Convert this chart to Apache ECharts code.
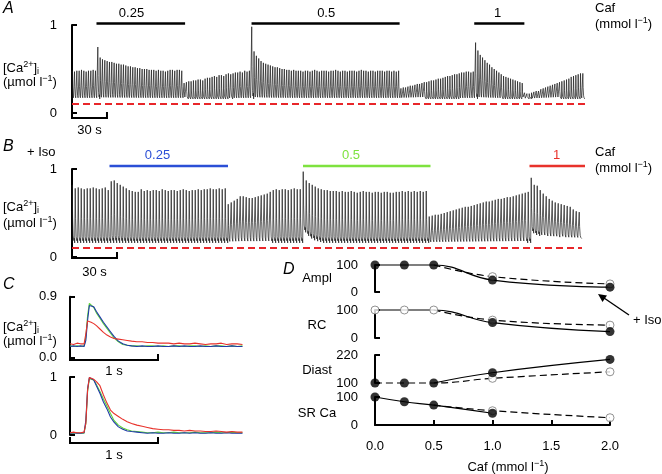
<!DOCTYPE html>
<html>
<head>
<meta charset="utf-8">
<script src="https://cdn.jsdelivr.net/npm/echarts@6.0.0/dist/echarts.min.js"></script>
<style>
html, body { margin: 0; padding: 0; background: #fff; }
#fig { width: 662px; height: 474px; }
</style>
</head>
<body>
<div id="fig"></div>
<script>
// ---- data ----
// A / B: systolic peak of every beat (field stimulation, one beat every 2 s), µmol/l
var beatPeriod = 2;
var aPeaks = [
  0.48,0.47,0.48,0.48,0.49,0.48,0.47,0.48,0.48,0.49,0.48,
  0.75,
  0.63,0.61,0.60,0.59,0.58,0.58,0.57,0.56,0.56,0.55,0.55,0.54,0.53,0.53,0.52,0.52,0.51,0.51,
  0.50,0.50,0.50,0.49,0.49,0.49,0.48,0.49,0.48,0.48,0.47,0.48,0.49,0.49,0.48,0.49,0.49,0.48,
  0.34,0.35,0.36,0.36,0.37,0.37,0.38,0.38,0.37,0.39,0.40,0.40,0.41,0.42,0.41,0.43,0.43,0.42,
  0.44,0.45,0.44,0.45,0.46,0.46,0.47,0.46,0.48,0.47,0.48,
  0.98,
  0.70,0.65,0.62,0.59,0.57,0.56,0.55,0.54,0.53,0.52,0.52,0.51,0.50,0.50,0.49,0.49,0.48,0.49,0.48,0.48,
  0.48,0.47,0.48,0.48,0.47,0.48,0.49,0.48,0.47,0.48,0.48,0.48,0.47,0.48,0.48,0.49,0.48,0.47,0.48,0.48,
  0.47,0.48,0.48,0.48,0.47,0.48,0.49,0.48,0.48,0.47,0.48,0.48,0.47,0.48,0.48,0.48,0.47,0.48,0.48,0.47,
  0.48,0.47,0.48,
  0.28,0.29,0.29,0.30,0.31,0.31,0.32,0.33,0.33,0.34,0.35,0.35,0.36,0.37,0.37,0.38,0.39,0.39,0.40,0.41,
  0.42,0.42,0.43,0.44,0.44,0.45,0.46,0.46,0.47,0.47,0.46,0.47,
  0.80,
  0.71,0.66,0.63,0.60,0.57,0.55,0.52,0.50,0.48,0.46,0.44,0.42,0.41,0.40,0.39,0.38,0.37,0.36,0.35,0.34,
  0.23,0.22,0.22,0.23,0.24,0.25,0.25,0.27,0.28,0.29,0.30,0.31,0.32,0.33,0.34,0.35,0.36,0.37,0.38,0.39,
  0.41,0.42,0.43,0.44,0.45,0.45
];
var aDiast = 0.16;

var bPeaks = [
  0.82,0.78,0.79,0.78,0.77,0.78,0.78,0.79,0.78,0.77,0.78,0.79,0.76,
  0.86,0.87,0.84,0.82,0.80,0.78,0.76,0.75,0.74,
  0.74,0.77,0.75,0.76,0.75,0.76,0.76,0.75,0.77,0.76,0.75,0.76,0.76,0.75,0.76,0.77,0.76,0.75,0.76,0.76,
  0.77,0.76,0.77,0.77,0.78,0.77,0.77,0.78,0.77,0.78,
  0.60,0.62,0.64,0.66,0.69,0.69,0.68,0.67,0.67,0.68,0.69,0.70,0.71,0.72,0.74,0.76,0.77,0.76,0.77,0.77,
  0.76,0.77,0.78,0.77,0.77,
  0.97,
  0.87,0.84,0.82,0.80,0.78,0.77,0.76,0.76,0.75,0.75,
  0.75,0.74,0.75,0.74,0.74,0.75,0.74,0.73,0.74,0.75,0.74,0.74,0.73,0.74,0.74,0.73,0.74,0.74,0.73,0.73,
  0.74,0.74,0.75,0.74,0.75,0.74,0.75,0.74,0.75,0.74,0.75,
  0.46,0.47,0.48,0.48,0.49,0.50,0.51,0.52,0.53,0.54,0.55,0.56,0.57,0.57,0.58,0.59,0.60,0.61,0.62,0.63,
  0.63,0.64,0.65,0.66,0.66,0.67,0.68,0.68,0.69,0.70,0.71,0.72,0.73,0.74,
  0.90,
  0.82,0.81,0.76,0.72,0.69,0.66,0.64,0.62,0.61,0.60,0.59,0.58,0.57,0.54,0.52,0.51
];
var bDiast = [
  0.16,0.16,0.16,0.16,0.16,0.16,0.16,0.16,0.16,0.16,0.16,0.16,0.16,0.16,0.16,0.16,0.16,0.16,0.16,0.16,
  0.16,0.16,0.16,0.16,0.16,0.16,0.16,0.16,0.16,0.16,0.16,0.16,0.16,0.16,0.16,0.16,0.16,0.16,0.16,0.16,
  0.16,0.16,0.16,0.16,0.16,0.16,0.16,0.16,0.16,0.16,0.16,0.16,0.16,0.16,0.16,0.16,0.16,0.16,0.16,0.16,
  0.16,0.16,0.16,0.16,0.16,0.16,0.16,0.16,0.16,0.16,0.16,0.16,0.16,0.16,0.16,0.16,0.16,0.16,
  0.28,0.24,0.21,0.19,0.18,0.17,
  0.16,0.16,0.16,0.16,0.16,0.16,0.16,0.16,0.16,0.16,0.16,0.16,0.16,0.16,0.16,0.16,0.16,0.16,0.16,0.16,
  0.16,0.16,0.16,0.16,0.16,0.16,0.16,0.16,0.16,0.16,0.16,0.16,0.16,0.16,0.16,0.16,0.16,0.16,0.16,0.16,
  0.16,0.16,0.16,0.16,0.16,0.16,0.16,0.16,0.16,0.16,0.16,0.16,0.16,0.16,0.16,0.16,0.16,0.16,0.16,0.16,
  0.16,0.16,0.16,0.16,0.16,0.16,0.16,0.16,0.16,0.16,
  0.27,0.25,0.24,0.23,0.23,0.22,0.22,0.22,0.22,0.21,0.22,0.21,0.21,0.21,0.21,0.21
];
// time course of one transient as fraction of (peak - diastolic)
var beatShape = [[0,0],[0.15,1],[0.4,0.45],[0.8,0.12],[1.2,0.04],[1.5,0.08],[1.8,0]];
var restLevel = 0.11;

// caffeine applications (s from start of record)
var cafLabels = ['0.25', '0.5', '1'];
var aCafStart = [21, 154, 345], aCafEnd = [97, 281, 388], aCafLabelAt = [51, 218, 365];
var bCafStart = [25, 154, 305], bCafEnd = [104, 239, 342], bCafLabelAt = [57, 186, 323];
var bCafColors = ['#2b4fd6', '#7ee23f', '#e8322b'];

// C: averaged transients (s, µmol/l)
var tC = [0,0.04,0.08,0.12,0.16,0.18,0.2,0.22,0.24,0.27,0.3,0.34,0.38,0.42,0.46,0.5,0.55,0.6,0.65,0.7,0.76,
  0.82,0.88,0.94,1.0,1.06,1.12,1.18,1.24,1.3,1.36,1.42,1.48,1.54,1.6,1.66,1.72,1.78,1.84,1.9,1.96];
var cTopGreen = [0.17,0.16,0.17,0.16,0.17,0.30,0.62,0.80,0.78,0.74,0.66,0.58,0.50,0.43,0.36,0.29,0.23,0.19,0.18,0.17,0.17,
  0.16,0.17,0.17,0.16,0.17,0.16,0.17,0.17,0.16,0.17,0.17,0.16,0.17,0.16,0.17,0.17,0.16,0.17,0.16,0.17];
var cTopBlue = [0.16,0.17,0.16,0.17,0.16,0.25,0.55,0.77,0.78,0.75,0.68,0.60,0.52,0.45,0.38,0.31,0.24,0.20,0.18,0.17,0.16,
  0.17,0.16,0.16,0.17,0.16,0.16,0.17,0.16,0.17,0.16,0.16,0.17,0.16,0.16,0.17,0.16,0.16,0.17,0.16,0.16];
var cTopRed = [0.20,0.19,0.21,0.20,0.20,0.35,0.54,0.53,0.52,0.50,0.47,0.42,0.37,0.33,0.30,0.28,0.27,0.26,0.25,0.24,0.23,
  0.23,0.22,0.22,0.21,0.21,0.21,0.20,0.21,0.20,0.20,0.21,0.20,0.19,0.20,0.20,0.21,0.19,0.20,0.20,0.19];
// C lower: normalised
var cBotGreen = [0.03,0.03,0.04,0.03,0.03,0.20,0.75,0.97,0.98,0.95,0.87,0.75,0.62,0.50,0.37,0.25,0.17,0.12,0.09,0.07,0.06,
  0.05,0.04,0.04,0.05,0.04,0.04,0.05,0.04,0.04,0.04,0.05,0.04,0.04,0.04,0.05,0.04,0.04,0.05,0.04,0.04];
var cBotBlue = [0.03,0.04,0.03,0.03,0.04,0.25,0.80,0.99,0.98,0.95,0.85,0.72,0.57,0.45,0.31,0.22,0.14,0.10,0.07,0.06,0.05,
  0.04,0.03,0.04,0.03,0.03,0.04,0.03,0.03,0.04,0.03,0.04,0.03,0.03,0.04,0.03,0.03,0.04,0.03,0.03,0.03];
var cBotRed = [0.04,0.05,0.04,0.04,0.05,0.20,0.78,0.99,0.98,0.96,0.92,0.85,0.69,0.55,0.43,0.37,0.32,0.27,0.23,0.20,0.17,
  0.15,0.13,0.11,0.10,0.09,0.09,0.08,0.08,0.07,0.08,0.07,0.07,0.06,0.06,0.07,0.06,0.05,0.06,0.05,0.05];

// D: % of control vs caffeine (mmol/l)
var cafConc = [0, 0.25, 0.5, 1, 2];
var amplFilled = [100,100,100,44,18],  amplOpen = [null,null,null,57,30];
var amplSolid  = [100,100,100,44,18],  amplDashed = [null,null,100,57,30];
var rcFilled   = [null,null,null,55,23], rcOpen = [100,100,100,64,46];
var rcSolid    = [100,100,100,55,23],  rcDashed = [null,null,100,64,46];
var diastFilled = [100,100,100,144,201], diastOpen = [null,null,null,120,148];
var diastSolid  = [null,null,100,144,201], diastDashed = [100,100,100,120,148];
var srFilled = [100,83,71,42,null], srOpen = [null,null,null,51,26];
var srSolid  = [100,83,71,42,null], srDashed = [null,null,71,51,26];

// ---- drawing ----
var FONT = '"Liberation Sans", Arial, Helvetica, sans-serif';
var chart = echarts.init(document.getElementById('fig'), null, { renderer: 'canvas' });

function traceData(peaks, diast) {
  var out = [];
  peaks.forEach(function (p, i) {
    var t0 = i * beatPeriod;
    var b0 = Array.isArray(diast) ? diast[i] : diast;
    var b1 = Array.isArray(diast) ? diast[Math.min(i + 1, peaks.length - 1)] : diast;
    beatShape.forEach(function (s, k) {
      var b = k === 0 ? b0 : b1;
      out.push([t0 + s[0], b + s[1] * (p - b)]);
    });
  });
  return out;
}
function pairs(xs, ys) {
  return xs.map(function (x, i) { return ys[i] == null ? null : [x, ys[i]]; })
           .filter(function (d) { return d; });
}
function yBracket(gi, min, max, interval, offset, fmt, custom) {
  var ax = {
    type: 'value', gridIndex: gi, min: min, max: max, offset: offset,
    axisLine: { show: true, lineStyle: { color: '#000', width: 2 } },
    axisTick: { show: true, inside: true, length: 5, lineStyle: { color: '#000', width: 2 } },
    axisLabel: { show: true, color: '#000', fontSize: 13, fontFamily: FONT, margin: 5, formatter: fmt },
    splitLine: { show: false }
  };
  if (interval) ax.interval = interval;
  if (custom) { ax.axisTick.customValues = custom; ax.axisLabel.customValues = custom; }
  return ax;
}
function xHidden(gi, min, max) {
  return { type: 'value', gridIndex: gi, min: min, max: max, show: false };
}
function grid(l, t, w, h) {
  return { left: l, top: t, width: w, height: h, outerBoundsMode: 'none', containLabel: false };
}
var restMark = {
  silent: true, symbol: 'none', animation: false,
  label: { show: false },
  lineStyle: { color: '#e8262a', type: [7, 4], width: 2.2 },
  data: [{ yAxis: restLevel }]
};
function cLine(gi, ys, color) {
  return { type: 'line', xAxisIndex: gi, yAxisIndex: gi, data: pairs(tC, ys), symbol: 'none',
    lineStyle: { color: color, width: 1.1 }, silent: true, animation: false };
}
function dLine(gi, ys, dashed) {
  return { type: 'line', xAxisIndex: gi, yAxisIndex: gi, data: pairs(cafConc, ys), symbol: 'none',
    smooth: 0.45, clip: false, silent: true, animation: false, z: 2,
    lineStyle: { color: '#000', width: 1.2, type: dashed ? [7, 4] : 'solid' } };
}
function dDots(gi, ys, open) {
  return { type: 'scatter', xAxisIndex: gi, yAxisIndex: gi, data: pairs(cafConc, ys),
    symbol: 'circle', symbolSize: open ? 8 : 9, clip: false, silent: true, animation: false, z: open ? 3 : 4,
    itemStyle: open ? { color: '#fff', borderColor: '#777', borderWidth: 1 } : { color: '#000' } };
}

var option = {
  animation: false,
  textStyle: { fontFamily: FONT },
  grid: [
    grid(72, 25, 513, 88),     // A
    grid(72, 169, 510, 88),    // B
    grid(70, 296.7, 176, 60.6),// C top
    grid(70, 377, 176, 58),    // C bottom
    grid(375, 265, 235, 27),   // D Ampl
    grid(375, 310, 235, 28),   // D RC
    grid(375, 355, 235, 28),   // D Diast
    grid(375, 397, 235, 28)    // D SR Ca
  ],
  xAxis: [
    xHidden(0, 0, 440), xHidden(1, 0, 340), xHidden(2, 0, 2), xHidden(3, 0, 2),
    xHidden(4, 0, 2), xHidden(5, 0, 2), xHidden(6, 0, 2),
    {
      type: 'value', gridIndex: 7, min: 0, max: 2, interval: 0.5, offset: 7, position: 'bottom',
      axisLine: { show: true, lineStyle: { color: '#000', width: 2 } },
      axisTick: { show: true, inside: true, length: 5, lineStyle: { color: '#000', width: 2 } },
      axisLabel: { color: '#000', fontSize: 13, fontFamily: FONT, margin: 8,
        formatter: function (v) { return v.toFixed(1); } },
      splitLine: { show: false }
    }
  ],
  yAxis: [
    yBracket(0, 0, 1, 1, 10),
    yBracket(1, 0, 1, 1, 10),
    yBracket(2, 0, 0.9, 0.9, 8, function (v) { return v.toFixed(1); }),
    yBracket(3, 0, 1, 1, 8),
    yBracket(4, 0, 100, 100, 12),
    yBracket(5, 0, 100, 100, 12),
    yBracket(6, 100, 220, null, 12, null, [100, 220]),
    yBracket(7, 0, 100, 100, 12)
  ],
  series: [
    { type: 'line', xAxisIndex: 0, yAxisIndex: 0, data: traceData(aPeaks, aDiast), symbol: 'none',
      lineStyle: { color: '#1a1a1a', width: 0.7 }, silent: true, animation: false, markLine: restMark },
    { type: 'line', xAxisIndex: 1, yAxisIndex: 1, data: traceData(bPeaks, bDiast), symbol: 'none',
      lineStyle: { color: '#1a1a1a', width: 0.7 }, silent: true, animation: false, markLine: restMark },
    cLine(2, cTopGreen, '#5fd23a'), cLine(2, cTopBlue, '#1f3aa8'), cLine(2, cTopRed, '#e8322b'),
    cLine(3, cBotGreen, '#5fd23a'), cLine(3, cBotBlue, '#1f3aa8'), cLine(3, cBotRed, '#e8322b'),
    dLine(4, amplSolid, false), dLine(4, amplDashed, true), dDots(4, amplOpen, true), dDots(4, amplFilled, false),
    dLine(5, rcSolid, false), dLine(5, rcDashed, true), dDots(5, rcFilled, false), dDots(5, rcOpen, true),
    dLine(6, diastSolid, false), dLine(6, diastDashed, true), dDots(6, diastOpen, true), dDots(6, diastFilled, false),
    dLine(7, srSolid, false), dLine(7, srDashed, true), dDots(7, srOpen, true), dDots(7, srFilled, false)
  ]
};
chart.setOption(option);

// ---- annotations ----
function px(gi, x, y) { return chart.convertToPixel({ gridIndex: gi }, [x, y]); }
function txt(x, y, s, opt) {
  opt = opt || {};
  return { type: 'text', x: x, y: y, silent: true, z: 10,
    style: { text: s, fontSize: opt.size || 13, fontFamily: FONT, fill: opt.color || '#000',
      fontStyle: opt.italic ? 'italic' : 'normal', align: opt.align || 'left', verticalAlign: 'middle',
      rich: opt.rich } };
}
var richUnits = {
  n: { fontSize: 13, fontFamily: FONT, fill: '#000', lineHeight: 16 },
  s: { fontSize: 9, fontFamily: FONT, fill: '#000', lineHeight: 9, verticalAlign: 'top' },
  b: { fontSize: 9, fontFamily: FONT, fill: '#000', lineHeight: 9, verticalAlign: 'bottom' }
};
var caLabel = '{n|[Ca}{s|2+}{n|]}{b|i}';
var umolLabel = '{n|(\u00b5mol l}{s|\u22121}{n|)}';
var mmolLabel = '{n|(mmol l}{s|\u22121}{n|)}';
function hline(x1, x2, y, color, w) {
  return { type: 'line', silent: true, z: 10, shape: { x1: x1, y1: y, x2: x2, y2: y },
    style: { stroke: color, lineWidth: w } };
}
function scaleBar(gi, t0, t1, y, label, labelY) {
  var a = px(gi, t0, 0)[0], b = px(gi, t1, 0)[0];
  return [
    { type: 'polyline', silent: true, z: 10,
      shape: { points: [[a, y - 6], [a, y], [b, y], [b, y - 6]] },
      style: { stroke: '#000', lineWidth: 2, fill: null } },
    txt((a + b) / 2, labelY, label, { align: 'center' })
  ];
}

var g = [];
// panel letters
g.push(txt(3, 9, 'A', { size: 16, italic: true }));
g.push(txt(3, 147, 'B', { size: 16, italic: true }));
g.push(txt(3, 285, 'C', { size: 16, italic: true }));
g.push(txt(283, 270, 'D', { size: 16, italic: true }));
// y titles
g.push(txt(3, 68, caLabel, { rich: richUnits }));
g.push(txt(3, 82, umolLabel, { rich: richUnits }));
g.push(txt(3, 207, caLabel, { rich: richUnits }));
g.push(txt(3, 223, umolLabel, { rich: richUnits }));
g.push(txt(3, 327, caLabel, { rich: richUnits }));
g.push(txt(3, 341, umolLabel, { rich: richUnits }));
g.push(txt(27, 152, '+ Iso'));
// caffeine headers
g.push(txt(595, 8, 'Caf'));
g.push(txt(595, 24, mmolLabel, { rich: richUnits }));
g.push(txt(595, 152, 'Caf'));
g.push(txt(595, 168, mmolLabel, { rich: richUnits }));
// caffeine bars
cafLabels.forEach(function (lab, i) {
  g.push(hline(px(0, aCafStart[i], 0)[0], px(0, aCafEnd[i], 0)[0], 23.5, '#000', 2.5));
  g.push(txt(px(0, aCafLabelAt[i], 0)[0], 13, lab, { align: 'center' }));
  g.push(hline(px(1, bCafStart[i], 0)[0], px(1, bCafEnd[i], 0)[0], 166, bCafColors[i], 2.5));
  g.push(txt(px(1, bCafLabelAt[i], 0)[0], 155, lab, { align: 'center', color: bCafColors[i] }));
});
// time scale bars
g = g.concat(scaleBar(0, 0, 30, 118, '30 s', 130));
g = g.concat(scaleBar(1, 0, 30, 258, '30 s', 272));
g = g.concat(scaleBar(2, 0, 1, 360, '1 s', 371));
g = g.concat(scaleBar(3, 0, 1, 443, '1 s', 455));
// D labels
g.push(txt(317, 278, 'Ampl', { align: 'center' }));
g.push(txt(317, 325, 'RC', { align: 'center' }));
g.push(txt(317, 370, 'Diast', { align: 'center' }));
g.push(txt(317, 413, 'SR Ca', { align: 'center' }));
g.push(txt(508, 467, '{n|Caf (mmol l}{s|\u22121}{n|)}', { align: 'center', rich: richUnits }));
// + Iso arrow
g.push({ type: 'line', silent: true, z: 10, shape: { x1: 629, y1: 315, x2: 604, y2: 298 },
  style: { stroke: '#000', lineWidth: 1.4 } });
g.push({ type: 'polygon', silent: true, z: 10, shape: { points: [[598, 294], [607, 295.5], [602.5, 302]] },
  style: { fill: '#000' } });
g.push(txt(633, 320, '+ Iso'));

chart.setOption({ graphic: g });
</script>
</body>
</html>
